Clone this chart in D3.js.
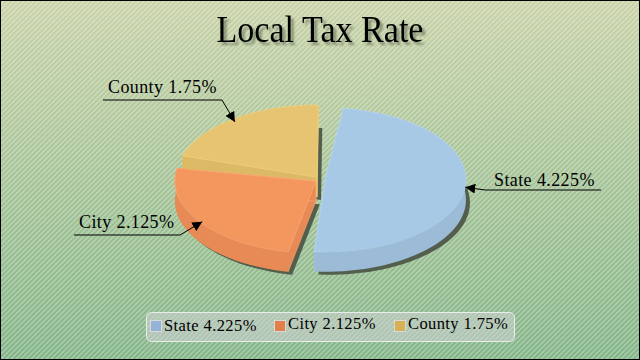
<!DOCTYPE html>
<html>
<head>
<meta charset="utf-8">
<script src="https://cdn.jsdelivr.net/npm/d3@7"></script>
<style>
  html, body { margin: 0; padding: 0; background: #fff; }
  svg { display: block; }
  text { font-family: "Liberation Serif", serif; fill: #000; }
</style>
</head>
<body>
<script>
const categories = ["State", "City", "County"];
const rates = [4.225, 2.125, 1.75];
const rateLabels = ["4.225%", "2.125%", "1.75%"];
const topColors = ["#a7c9e5", "#f4975f", "#e6c471"];
const wallColors = ["#9cbbd6", "#e88a55", "#dcb964"];
const edgeColors = ["#b6d5ee", "#fba873", "#f1d07c"];
const swatchColors = ["#95b3d7", "#e37f48", "#d8b155"];

const width = 640, height = 360;
const cx = 320, cy = 179.5, rx = 141, ry = 72, depth = 20, explode = 5;
const deg = Math.PI / 180;

const svg = d3.select("body").append("svg")
    .attr("width", width)
    .attr("height", height);

const defs = svg.append("defs");

const grad = defs.append("linearGradient")
    .attr("id", "bg")
    .attr("x1", 0).attr("y1", 0).attr("x2", 0).attr("y2", 1);
grad.append("stop").attr("offset", "0%").attr("stop-color", "#c8d2a6");
grad.append("stop").attr("offset", "100%").attr("stop-color", "#80b385");

const stripes = defs.append("pattern")
    .attr("id", "stripes")
    .attr("patternUnits", "userSpaceOnUse")
    .attr("width", 5).attr("height", 5);
stripes.append("path")
    .attr("d", "M-1,1L1,-1M0,5L5,0M4,6L6,4")
    .attr("stroke", "#fff")
    .attr("stroke-opacity", 0.3)
    .attr("stroke-width", 1.6);

// background
svg.append("rect").attr("width", width).attr("height", height).attr("fill", "url(#bg)");
svg.append("rect").attr("width", width).attr("height", height).attr("fill", "url(#stripes)");
svg.append("rect")
    .attr("x", 0.5).attr("y", 0.5)
    .attr("width", width - 1).attr("height", height - 1)
    .attr("fill", "none")
    .attr("stroke", "#000");

// title, the shadow is a css filter so there is only one text
svg.append("text")
    .attr("x", 320).attr("y", 42)
    .attr("text-anchor", "middle")
    .attr("font-size", 37)
    .attr("textLength", 207)
    .attr("lengthAdjust", "spacingAndGlyphs")
    .style("filter", "drop-shadow(3px 3px 1px rgba(70,80,60,0.55))")
    .text("Local Tax Rate");

// the pie, squashed into an ellipse by hand
const pie = d3.pie()
    .sort(null)
    .startAngle(4 * deg)
    .endAngle(364 * deg)
    .padAngle(7 * deg);
const slices = pie(rates);

function midAngle(d) {
  return (d.startAngle + d.endAngle) / 2;
}
function apex(d, z) {
  const mid = midAngle(d);
  return [cx + explode * Math.sin(mid), cy - explode * 0.6 * Math.cos(mid) + (z || 0)];
}
function pt(angle, d, z) {
  const o = apex(d, z);
  return [o[0] + rx * Math.sin(angle), o[1] - ry * Math.cos(angle)];
}
function arcPoints(d, z) {
  const n = 60,
        a0 = d.startAngle + d.padAngle / 2,
        a1 = d.endAngle - d.padAngle / 2;
  return d3.range(n + 1).map(i => pt(a0 + (a1 - a0) * i / n, d, z));
}
const line = d3.line();

// shadow of each slice's bottom face
svg.append("g").attr("transform", "translate(4,3)")
  .selectAll("path").data(slices).join("path")
    .attr("d", d => line([apex(d, depth)].concat(arcPoints(d, depth))) + "Z")
    .attr("fill", "#535f4c");

// County first, State last so the nearer slices cover the others
[2, 1, 0].forEach(i => {
  const d = slices[i];
  const g = svg.append("g");
  const top = arcPoints(d), bottom = arcPoints(d, depth);
  // cut faces
  [[top[0], bottom[0]], [top[60], bottom[60]]].forEach(c => {
    g.append("path")
      .attr("d", line([apex(d), c[0], c[1], apex(d, depth)]) + "Z")
      .attr("fill", wallColors[i])
      .attr("stroke", edgeColors[i])
      .attr("stroke-width", 0.6);
  });
  // outer wall
  g.append("path")
    .attr("d", line(top.concat(bottom.slice().reverse())) + "Z")
    .attr("fill", wallColors[i]);
  // top face
  g.append("path")
    .attr("d", line([apex(d)].concat(top)) + "Z")
    .attr("fill", topColors[i])
    .attr("stroke", edgeColors[i])
    .attr("stroke-width", 0.8);
});

// leader lines and data labels
defs.append("marker")
    .attr("id", "arrow")
    .attr("viewBox", "0 0 10 10")
    .attr("refX", 10).attr("refY", 5)
    .attr("markerWidth", 10).attr("markerHeight", 10)
    .attr("markerUnits", "userSpaceOnUse")
    .attr("orient", "auto")
  .append("path")
    .attr("d", "M0,0L10,5L0,10Z")
    .attr("fill", "#000");

const labelLines = [[601, 485, 190, 0, 0], [74, 180, 235, 3, 0], [103, 222, 100, 1, 3]];
const labelText = [494, 79, 108];
const labelBase = [186, 228, 93];
slices.forEach((d, i) => {
  const tip = pt(midAngle(d), d);
  const [x0, x1, y, dx, dy] = labelLines[i];
  svg.append("path")
    .attr("d", line([[x0, y], [x1, y], [tip[0] + dx, tip[1] + dy]]))
    .attr("fill", "none")
    .attr("stroke", "#000")
    .attr("stroke-width", 1)
    .attr("marker-end", "url(#arrow)");
  svg.append("text")
    .attr("x", labelText[i]).attr("y", labelBase[i])
    .attr("font-size", 18)
    .attr("letter-spacing", 0.4)
    .text(categories[i] + " " + rateLabels[i]);
});

// legend
const legend = svg.append("g");
legend.append("rect")
    .attr("x", 146.5).attr("y", 312.5)
    .attr("width", 368).attr("height", 29)
    .attr("rx", 5)
    .attr("fill", "#cfd2d4").attr("fill-opacity", 0.55)
    .attr("stroke", "#e8eeea");
const legendX = d3.scaleOrdinal().domain(categories).range([150.5, 274.5, 394.5]);
categories.forEach((c, i) => {
  legend.append("rect")
    .attr("x", legendX(c)).attr("y", 320.5)
    .attr("width", 11).attr("height", 11)
    .attr("fill", swatchColors[i])
    .attr("stroke", "#d8dcd8").attr("stroke-width", 1);
  legend.append("text")
    .attr("x", legendX(c) + 13.5).attr("y", i === 0 ? 331 : 329)
    .attr("font-size", 16.5)
    .attr("letter-spacing", 0.4)
    .text(c + " " + rateLabels[i]);
});
</script>
</body>
</html>
